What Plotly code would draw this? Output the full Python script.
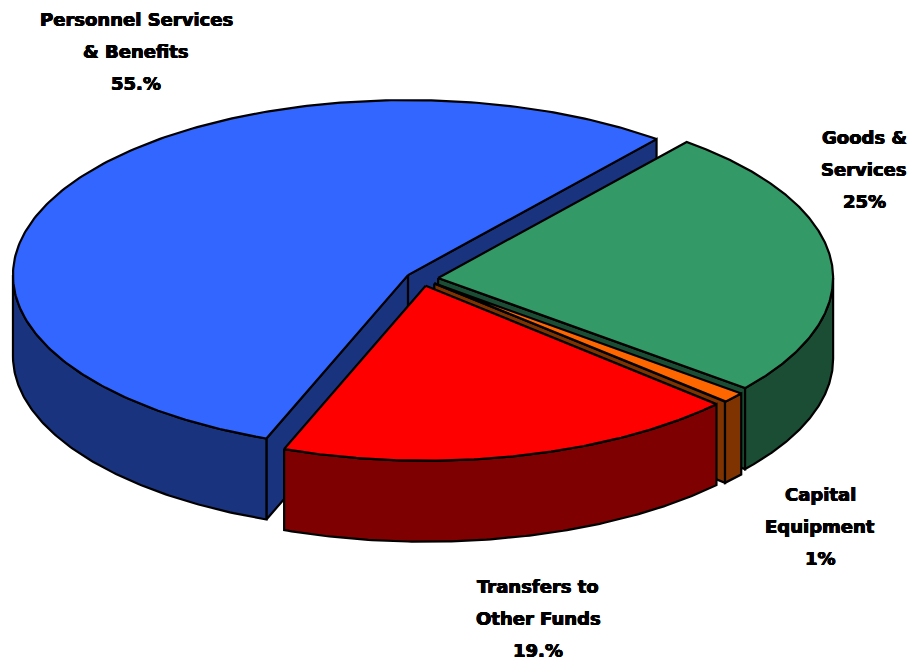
import numpy as np
import plotly.graph_objects as go

# Budget shares, listed counter-clockwise from the first slice
categories = ["Personnel Services & Benefits", "Transfers to Other Funds", "Capital Equipment", "Goods & Services"]
shares = [55, 19, 1, 25]
top_colors = ["#3366FF", "#FF0000", "#FF6600", "#339966"]
side_colors = ["#1A337F", "#7F0000", "#7F3300", "#1A4D33"]
label_lines = [
    ["Personnel Services", "& Benefits", "55.%"],
    ["Transfers to", "Other Funds", "19.%"],
    ["Capital", "Equipment", "1%"],
    ["Goods &", "Services", "25%"],
]
label_anchor = [(136, 19), (538, 586), (820, 494), (864, 137)]
# Back-to-front painting order, as indexes into the lists above
paint_order = [0, 3, 2, 1]

# Pie projection, in pixels of the 914x666 canvas
CX, CY = 422.0, 278.7
RX, RY = 395.0, 175.0
DEPTH = 81.0
EXPLODE = 0.041
START = 51.0
LINE_GAP = 32
OUTLINE = dict(color="black", width=2.2)


def rim_xy(cx, cy, deg):
    rad = np.radians(deg)
    return cx + RX * np.cos(rad), cy - RY * np.sin(rad)


def add_poly(fig, xs, ys, color):
    fig.add_trace(go.Scatter(
        x=list(xs), y=list(ys), mode="lines", fill="toself",
        fillcolor=color, line=OUTLINE, hoverinfo="skip", showlegend=False,
    ))


def draw_slice(fig, a1, a2, top, side):
    mid = np.radians((a1 + a2) / 2)
    cx = CX + EXPLODE * RX * np.cos(mid)
    cy = CY - EXPLODE * RY * np.sin(mid)

    # Cut faces, only when they turn toward the viewer
    for edge, normal in ((a1, a1 - 90), (a2, a2 + 90)):
        if np.sin(np.radians(normal)) < 0:
            ex, ey = rim_xy(cx, cy, edge)
            add_poly(fig, [cx, ex, ex, cx, cx], [cy, ey, ey + DEPTH, cy + DEPTH, cy], side)

    # Outer wall along the front half of the ellipse
    for k in (0, 1):
        lo = max(a1, 180 + 360 * k)
        hi = min(a2, 360 + 360 * k)
        if hi > lo:
            t = np.linspace(lo, hi, 120)
            ax, ay = rim_xy(cx, cy, t)
            add_poly(fig,
                     np.r_[ax, ax[::-1], ax[0]],
                     np.r_[ay, ay[::-1] + DEPTH, ay[0]], side)

    # Top surface
    t = np.linspace(a1, a2, 240)
    ax, ay = rim_xy(cx, cy, t)
    add_poly(fig, np.r_[cx, ax, cx], np.r_[cy, ay, cy], top)


# Slice angles follow the shares; painting order keeps nearer slices on top
sweeps = 360.0 * np.array(shares) / sum(shares)
ends = START + np.cumsum(sweeps)
starts = ends - sweeps

fig = go.Figure()
for i in paint_order:
    draw_slice(fig, starts[i], ends[i], top_colors[i], side_colors[i])

heavy = "0.45px 0 0 black, -0.45px 0 0 black, 0 0.3px 0 black, 0 -0.3px 0 black"
for lines, (lx, ly) in zip(label_lines, label_anchor):
    for i, line in enumerate(lines):
        fig.add_annotation(
            x=lx, y=ly + i * LINE_GAP, text=f"<b>{line}</b>", showarrow=False,
            xanchor="center", yanchor="middle",
            font=dict(family="DejaVu Sans", size=18, color="black", shadow=heavy),
        )

fig.update_layout(
    width=914, height=666, margin=dict(l=0, r=0, t=0, b=0),
    paper_bgcolor="white", plot_bgcolor="white", showlegend=False,
    xaxis=dict(range=[0, 914], visible=False, fixedrange=True),
    yaxis=dict(range=[666, 0], visible=False, fixedrange=True),
)
fig.write_html("out.html")
